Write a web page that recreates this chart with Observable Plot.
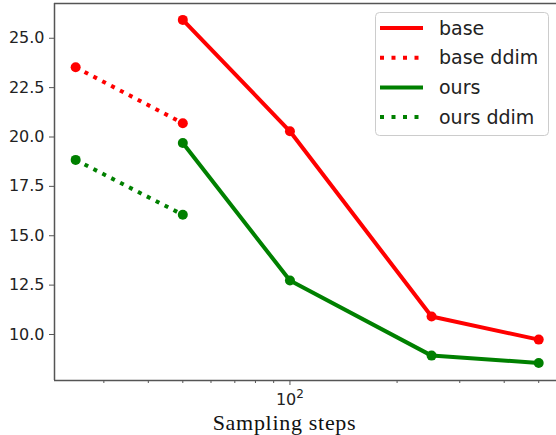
<!DOCTYPE html>
<html>
<head>
<meta charset="utf-8">
<script src="https://cdn.jsdelivr.net/npm/d3@7"></script>
<script src="https://cdn.jsdelivr.net/npm/@observablehq/plot@0.6"></script>
<style>
  html, body { margin: 0; padding: 0; background: #fff; }
  #wrap { position: relative; width: 556px; height: 435px; }
</style>
</head>
<body>
<div id="wrap"></div>
<script>
// ---- data ----
const steps = [50, 100, 250, 500];
const base = [25.93, 20.29, 10.91, 9.74];
const ours = [19.70, 12.73, 8.93, 8.56];
const ddimSteps = [25, 50];
const baseDdim = [23.53, 20.70];
const oursDdim = [18.84, 16.06];
const seriesNames = ["base", "base ddim", "ours", "ours ddim"];
const yTicks = [10, 12.5, 15, 17.5, 20, 22.5, 25];
const xMajorTicks = [100];
const xMinorTicks = [30, 40, 50, 60, 70, 80, 90, 200, 300, 400, 500];
const xLabel = "Sampling steps";

const RED = "#ff0000", GREEN = "#008000";

const mk = (xs, ys) => xs.map((x, i) => ({x, y: ys[i]}));
const dBase = mk(steps, base), dOurs = mk(steps, ours);
const dBaseD = mk(ddimSteps, baseDdim), dOursD = mk(ddimSteps, oursDdim);

const spine = "#555";
const chart = Plot.plot({
  width: 556, height: 435,
  marginLeft: 54, marginRight: 0, marginTop: 3, marginBottom: 55,
  style: {fontFamily: "DejaVu Sans", fontSize: "16px", color: "#222", background: "white"},
  x: {type: "log", domain: [21.8, 561]},
  y: {type: "linear", domain: [7.67, 26.76]},
  marks: [
    Plot.ruleX([21.8], {stroke: spine, strokeWidth: 1.5}),
    Plot.ruleY([7.67], {stroke: spine, strokeWidth: 1.5}),
    Plot.ruleY([26.76], {stroke: spine, strokeWidth: 1.5}),
    Plot.axisY(yTicks, {tickFormat: d3.format(".1f"), tickSize: 5, tickPadding: 5, stroke: spine, label: null, fontSize: 16}),
    Plot.axisX(xMinorTicks, {tickFormat: () => "", tickSize: 3, stroke: spine, label: null}),
    Plot.axisX(xMajorTicks, {tickFormat: () => "10", tickSize: 5, tickPadding: 8, stroke: spine, label: null, fontSize: 16}),
    Plot.line(dBaseD, {x: "x", y: "y", stroke: RED, strokeWidth: 4, strokeDasharray: "4,6", strokeLinecap: "butt"}),
    Plot.line(dOursD, {x: "x", y: "y", stroke: GREEN, strokeWidth: 4, strokeDasharray: "4,6", strokeLinecap: "butt"}),
    Plot.line(dBase, {x: "x", y: "y", stroke: RED, strokeWidth: 4}),
    Plot.line(dOurs, {x: "x", y: "y", stroke: GREEN, strokeWidth: 4}),
    Plot.dot(dBaseD, {x: "x", y: "y", r: 5, fill: RED}),
    Plot.dot(dOursD, {x: "x", y: "y", r: 5, fill: GREEN}),
    Plot.dot(dBase, {x: "x", y: "y", r: 5, fill: RED}),
    Plot.dot(dOurs, {x: "x", y: "y", r: 5, fill: GREEN}),
    Plot.text([xLabel], {frameAnchor: "bottom", lineAnchor: "bottom", dx: -21, dy: 49, fontFamily: "Liberation Serif", fontSize: 22, fill: "#111", className: "xlabel"})
  ]
});
document.getElementById("wrap").appendChild(chart);

d3.select(chart).selectAll(".xlabel text").style("letter-spacing", "0.7px");

// superscript exponent on the major x tick label
d3.select(chart).selectAll("text").each(function() {
  const t = d3.select(this);
  if (t.text() === "10" && t.selectAll("tspan").size() <= 1) {
    const tgt = t.selectAll("tspan").size() ? t.select("tspan") : t;
    tgt.append("tspan").attr("font-size", 12).attr("dy", "-0.55em").text("2");
  }
});

// ---- legend ----
const legendColors = [RED, RED, GREEN, GREEN];
const legendDash = [null, "4,7.5", null, "4,7.5"];
const lg = d3.select("#wrap").append("svg")
  .attr("width", 176).attr("height", 126)
  .style("position", "absolute").style("left", "375px").style("top", "12px");
lg.append("rect").attr("x", 0.5).attr("y", 0.5).attr("width", 173).attr("height", 123)
  .attr("rx", 4).attr("fill", "white").attr("fill-opacity", 0.8).attr("stroke", "#ccc");
seriesNames.forEach((name, i) => {
  const cy = 16 + i * 29.7;
  lg.append("line").attr("x1", 5).attr("x2", 48).attr("y1", cy).attr("y2", cy)
    .attr("stroke", legendColors[i]).attr("stroke-width", 4)
    .attr("stroke-dasharray", legendDash[i]);
  lg.append("text").attr("x", 64).attr("y", cy).attr("dy", "0.35em")
    .attr("font-family", "DejaVu Sans").attr("font-size", 19).attr("fill", "#222").text(name);
});
</script>
</body>
</html>
